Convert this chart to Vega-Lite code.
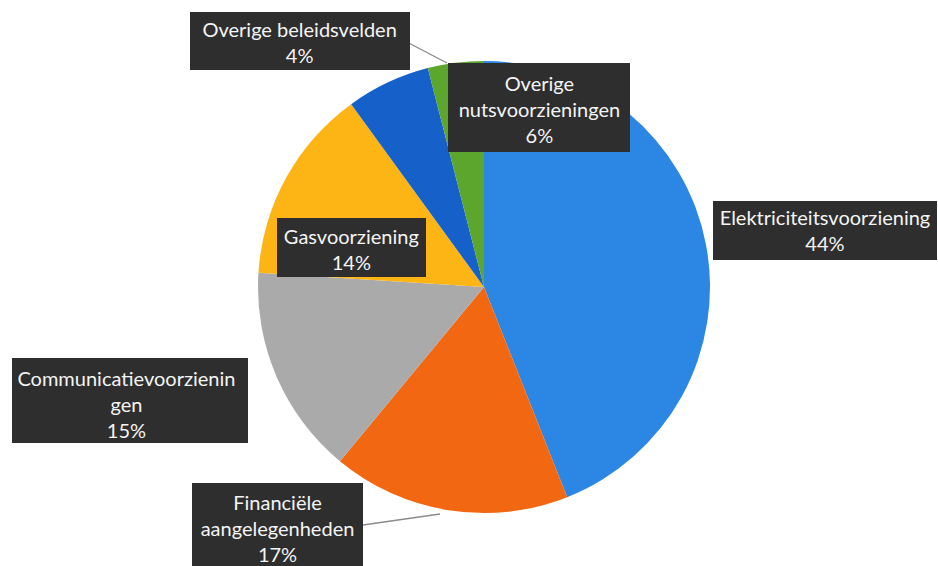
{
  "$schema": "https://vega.github.io/schema/vega-lite/v6.json",
  "autosize": {"type": "none"},
  "width": 908,
  "height": 558,
  "padding": {"left": 30, "top": 8, "right": 0, "bottom": 0},
  "background": "white",
  "config": {"view": {"stroke": null}, "text": {"font": "Lato", "fontSize": 20, "color": "#f4f4f4", "lineBreak": "\n", "lineHeight": 26, "align": "center", "baseline": "middle"}},
  "data": {
    "values": [
      {"category": "Elektriciteitsvoorziening", "share": 44, "rank": 1, "label": "Elektriciteitsvoorziening\n44%"},
      {"category": "Financiële aangelegenheden", "share": 17, "rank": 2, "label": "Financiële\naangelegenheden\n17%"},
      {"category": "Communicatievoorzieningen", "share": 15, "rank": 3, "label": "Communicatievoorzienin\ngen\n15%"},
      {"category": "Gasvoorziening", "share": 14, "rank": 4, "label": "Gasvoorziening\n14%"},
      {"category": "Overige nutsvoorzieningen", "share": 6, "rank": 5, "label": "Overige\nnutsvoorzieningen\n6%"},
      {"category": "Overige beleidsvelden", "share": 4, "rank": 6, "label": "Overige beleidsvelden\n4%"}
    ]
  },
  "resolve": {"scale": {"shape": "independent"}},
  "layer": [
    {
      "mark": {"type": "arc", "outerRadius": 226, "stroke": null},
      "encoding": {
        "theta": {"field": "share", "type": "quantitative", "stack": true},
        "order": {"field": "rank", "type": "quantitative"},
        "color": {
          "field": "category", "type": "nominal", "legend": null,
          "scale": {
            "domain": ["Elektriciteitsvoorziening", "Financiële aangelegenheden", "Communicatievoorzieningen", "Gasvoorziening", "Overige nutsvoorzieningen", "Overige beleidsvelden"],
            "range": ["#2b87e3", "#f26812", "#aaaaaa", "#fdb515", "#1661c9", "#5ca62d"]
          }
        }
      }
    },
    {
      "transform": [{"filter": "datum.category === 'Overige beleidsvelden' || datum.category === 'Financiële aangelegenheden'"}],
      "mark": {"type": "point", "filled": false, "stroke": "#8a8a8a", "strokeWidth": 1.3, "opacity": 1, "size": 4},
      "encoding": {
        "shape": {
          "field": "category", "type": "nominal", "legend": null,
          "scale": {
            "domain": ["Overige beleidsvelden", "Financiële aangelegenheden"],
            "range": ["M-81,-247L-37,-224", "M-121,238L-44,227"]
          }
        }
      }
    },
    {
      "mark": {"type": "point", "filled": true, "fill": "#2e2e2e", "opacity": 1, "size": 4, "strokeWidth": 0},
      "encoding": {
        "shape": {
          "field": "category", "type": "nominal", "legend": null,
          "scale": {
            "domain": ["Elektriciteitsvoorziening", "Financiële aangelegenheden", "Communicatievoorzieningen", "Gasvoorziening", "Overige nutsvoorzieningen", "Overige beleidsvelden"],
            "range": ["M229,-86H453V-27H229Z", "M-292,196H-121V284H-292Z", "M-472,71H-236V156H-472Z", "M-207,-69H-58V-10H-207Z", "M-36,-224H146V-135H-36Z", "M-294,-275H-74V-217H-294Z"]
          }
        }
      }
    },
    {
      "mark": {"type": "text", "radius": 340, "dx": 7, "dy": -4},
      "encoding": {
        "theta": {"field": "share", "type": "quantitative", "stack": true},
        "order": {"field": "rank", "type": "quantitative"},
        "detail": {"field": "category", "type": "nominal"},
        "text": {"condition": {"test": "datum.category === 'Elektriciteitsvoorziening'", "field": "label"}, "value": ""}
      }
    },
    {
      "mark": {"type": "text", "radius": 227, "dx": -171, "dy": -7},
      "encoding": {
        "theta": {"field": "share", "type": "quantitative", "stack": true},
        "order": {"field": "rank", "type": "quantitative"},
        "detail": {"field": "category", "type": "nominal"},
        "text": {"condition": {"test": "datum.category === 'Financiële aangelegenheden'", "field": "label"}, "value": ""}
      }
    },
    {
      "mark": {"type": "text", "radius": 370, "dx": -18, "dy": -54},
      "encoding": {
        "theta": {"field": "share", "type": "quantitative", "stack": true},
        "order": {"field": "rank", "type": "quantitative"},
        "detail": {"field": "category", "type": "nominal"},
        "text": {"condition": {"test": "datum.category === 'Communicatievoorzieningen'", "field": "label"}, "value": ""}
      }
    },
    {
      "mark": {"type": "text", "radius": 140, "dx": -10, "dy": 18},
      "encoding": {
        "theta": {"field": "share", "type": "quantitative", "stack": true},
        "order": {"field": "rank", "type": "quantitative"},
        "detail": {"field": "category", "type": "nominal"},
        "text": {"condition": {"test": "datum.category === 'Gasvoorziening'", "field": "label"}, "value": ""}
      }
    },
    {
      "mark": {"type": "text", "radius": 180, "dx": 132, "dy": -39},
      "encoding": {
        "theta": {"field": "share", "type": "quantitative", "stack": true},
        "order": {"field": "rank", "type": "quantitative"},
        "detail": {"field": "category", "type": "nominal"},
        "text": {"condition": {"test": "datum.category === 'Overige nutsvoorzieningen'", "field": "label"}, "value": ""}
      }
    },
    {
      "mark": {"type": "text", "radius": 250, "dx": -153, "dy": -8},
      "encoding": {
        "theta": {"field": "share", "type": "quantitative", "stack": true},
        "order": {"field": "rank", "type": "quantitative"},
        "detail": {"field": "category", "type": "nominal"},
        "text": {"condition": {"test": "datum.category === 'Overige beleidsvelden'", "field": "label"}, "value": ""}
      }
    }
  ]
}
